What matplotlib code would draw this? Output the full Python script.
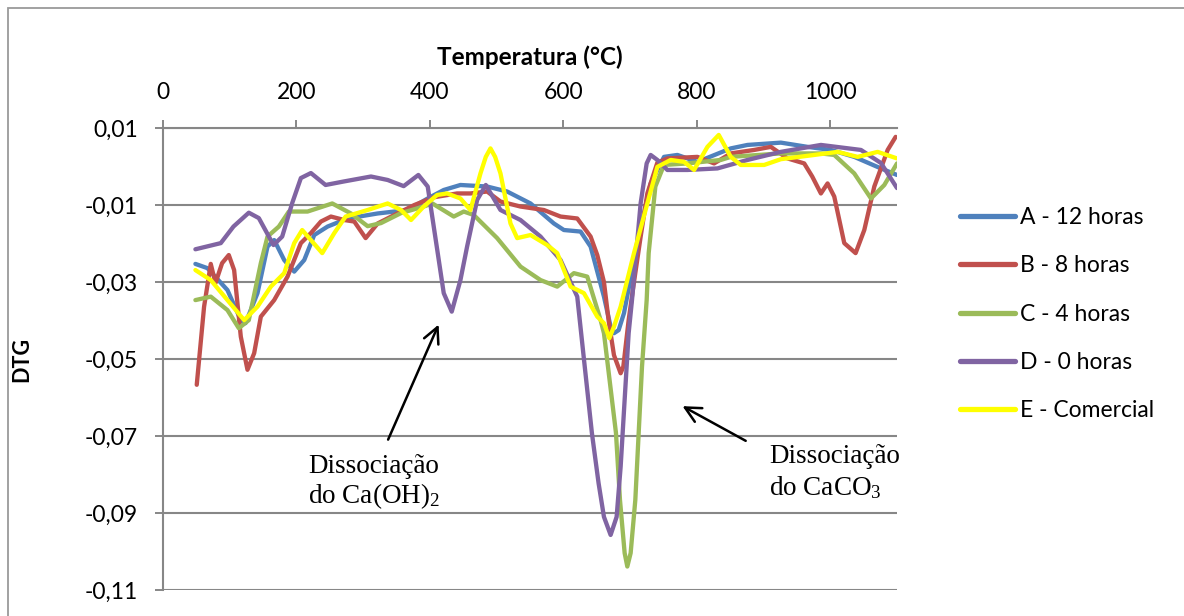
import matplotlib.pyplot as plt
from matplotlib.patches import Rectangle

plt.rcParams['font.family'] = ['Lato', 'DejaVu Sans']
plt.rcParams['mathtext.fontset'] = 'custom'
plt.rcParams['mathtext.rm'] = 'Liberation Serif'
plt.rcParams['mathtext.it'] = 'Liberation Serif:italic'

# DTG curves (temperature in °C, DTG value)
temp_a = [49, 67, 97, 117, 124, 142, 157, 167, 182, 197, 212, 227, 247, 277, 322, 367,
          397, 421, 446, 486, 516, 551, 586, 601, 626, 641, 661, 671, 676, 683, 691, 711,
          731, 751, 771, 801, 851, 876, 926, 966, 1001, 1036, 1076, 1100]
dtg_a = [-0.0253, -0.0264, -0.0321, -0.0399, -0.0407, -0.0329, -0.0208, -0.0191, -0.0243,
         -0.0273, -0.0243, -0.0178, -0.0156, -0.0135, -0.0122, -0.0113, -0.0083, -0.0061,
         -0.0048, -0.0052, -0.0065, -0.0096, -0.0148, -0.0165, -0.0169, -0.0208, -0.0338,
         -0.0416, -0.0433, -0.0425, -0.0381, -0.0199, -0.0044, 0.0025, 0.0030, 0.0012,
         0.0047, 0.0056, 0.0062, 0.0051, 0.0043, 0.0025, -0.0005, -0.0022]

temp_b = [51, 62, 72, 79, 89, 99, 107, 117, 127, 137, 147, 167, 187, 207, 222, 237, 252,
          272, 287, 304, 322, 347, 377, 406, 441, 461, 486, 506, 536, 571, 596, 621, 641,
          651, 661, 668, 676, 686, 690, 698, 706, 716, 726, 741, 756, 801, 826, 851, 886,
          911, 936, 961, 973, 986, 996, 1006, 1021, 1038, 1051, 1066, 1086, 1098]
dtg_b = [-0.0567, -0.0364, -0.0253, -0.0303, -0.0251, -0.0230, -0.0269, -0.0442, -0.0528,
         -0.0485, -0.0390, -0.0347, -0.0286, -0.0199, -0.0173, -0.0143, -0.0130, -0.0139,
         -0.0143, -0.0186, -0.0148, -0.0126, -0.0100, -0.0080, -0.0070, -0.0070, -0.0065,
         -0.0091, -0.0104, -0.0113, -0.0130, -0.0135, -0.0182, -0.0230, -0.0300, -0.0400,
         -0.0490, -0.0537, -0.0520, -0.0399, -0.0300, -0.0182, -0.0070, 0.0010, 0.0021,
         0.0025, 0.0008, 0.0034, 0.0043, 0.0051, 0.0021, 0.0008, -0.0026, -0.0070, -0.0044,
         -0.0078, -0.0199, -0.0225, -0.0165, -0.0052, 0.0043, 0.0077]

temp_c = [49, 72, 97, 114, 129, 147, 157, 174, 189, 217, 254, 282, 307, 327, 357, 391, 404,
          436, 451, 466, 501, 536, 566, 591, 616, 636, 656, 661, 679, 685, 692, 696, 701,
          708, 713, 718, 725, 728, 738, 751, 786, 836, 851, 926, 986, 1006, 1036, 1061,
          1081, 1100]
dtg_c = [-0.0347, -0.0338, -0.0373, -0.0420, -0.0399, -0.0251, -0.0182, -0.0156, -0.0117,
         -0.0117, -0.0096, -0.0122, -0.0155, -0.0147, -0.0121, -0.0104, -0.0096, -0.0130,
         -0.0117, -0.0126, -0.0186, -0.0260, -0.0295, -0.0312, -0.0277, -0.0286, -0.0399,
         -0.0433, -0.0692, -0.0866, -0.1004, -0.1039, -0.1004, -0.0866, -0.0693, -0.0520,
         -0.0347, -0.0225, -0.0052, 0.0004, 0.0008, 0.0017, 0.0025, 0.0034, 0.0034, 0.0030,
         -0.0018, -0.0083, -0.0048, 0.0008]

temp_d = [49, 87, 106, 129, 144, 166, 179, 194, 207, 222, 244, 271, 312, 337, 361, 383, 397,
          412, 421, 433, 446, 456, 471, 484, 506, 536, 566, 596, 621, 631, 643, 653, 661,
          671, 680, 686, 692, 698, 703, 707, 716, 725, 731, 741, 756, 786, 831, 876, 926,
          986, 1046, 1076, 1100]
dtg_d = [-0.0215, -0.0199, -0.0156, -0.0120, -0.0134, -0.0204, -0.0182, -0.0095, -0.0030,
         -0.0017, -0.0048, -0.0039, -0.0026, -0.0035, -0.0051, -0.0022, -0.0052, -0.0225,
         -0.0329, -0.0377, -0.0295, -0.0208, -0.0087, -0.0048, -0.0113, -0.0139, -0.0182,
         -0.0243, -0.0338, -0.0500, -0.0693, -0.0823, -0.0910, -0.0957, -0.0910, -0.0780,
         -0.0606, -0.0433, -0.0347, -0.0269, -0.0095, 0.0008, 0.0030, 0.0017, -0.0009,
         -0.0009, -0.0005, 0.0017, 0.0038, 0.0056, 0.0043, 0.0009, -0.0056]

temp_e = [49, 72, 97, 122, 142, 162, 182, 197, 209, 222, 239, 257, 274, 307, 337, 357, 372,
          391, 411, 426, 446, 461, 476, 484, 491, 498, 506, 521, 531, 551, 576, 591, 611,
          631, 651, 661, 669, 676, 686, 706, 726, 741, 761, 781, 796, 816, 833, 851, 866,
          901, 926, 976, 1011, 1041, 1071, 1100]
dtg_e = [-0.0269, -0.0295, -0.0347, -0.0399, -0.0364, -0.0312, -0.0277, -0.0199, -0.0165,
         -0.0191, -0.0225, -0.0173, -0.0130, -0.0113, -0.0096, -0.0113, -0.0139, -0.0104,
         -0.0074, -0.0070, -0.0083, -0.0113, -0.0018, 0.0025, 0.0047, 0.0025, -0.0018,
         -0.0148, -0.0186, -0.0178, -0.0204, -0.0225, -0.0312, -0.0329, -0.0390, -0.0407,
         -0.0446, -0.0416, -0.0364, -0.0225, -0.0096, -0.0001, 0.0017, 0.0012, -0.0009,
         0.0051, 0.0082, 0.0025, 0.0004, 0.0004, 0.0019, 0.0030, 0.0038, 0.0025, 0.0038,
         0.0021]

series_names = ['A - 12 horas', 'B - 8 horas', 'C - 4 horas', 'D - 0 horas', 'E - Comercial']
series_colors = ['#4F81BD', '#C0504D', '#9BBB59', '#8064A2', '#FFFF00']

x_ticks = [0, 200, 400, 600, 800, 1000]
y_ticks = [0.01, -0.01, -0.03, -0.05, -0.07, -0.09, -0.11]
y_tick_labels = ['0,01', '-0,01', '-0,03', '-0,05', '-0,07', '-0,09', '-0,11']

grey = '#878787'

fig = plt.figure(figsize=(11.84, 6.16), dpi=100)
ax = fig.add_axes([162.7 / 1184, 1 - 590 / 616, 734.3 / 1184, 462 / 616])

# outer chart border
fig.patches.append(Rectangle((8 / 1184, -0.1), 1.2, 1.1 - 8 / 616, transform=fig.transFigure,
                             fill=False, edgecolor='#9a9a9a', lw=1.3))

curves = [(temp_a, dtg_a), (temp_b, dtg_b), (temp_c, dtg_c), (temp_d, dtg_d), (temp_e, dtg_e)]
for (t, d), name, col in zip(curves, series_names, series_colors):
    ax.plot(t, d, color=col, lw=3.1, label=name, solid_joinstyle='round',
            solid_capstyle='round')

ax.set_xlim(0, 1100)
ax.set_ylim(-0.11, 0.01)
ax.set_xticks(x_ticks)
ax.set_yticks(y_ticks)
ax.set_yticklabels(y_tick_labels)
ax.xaxis.tick_top()
ax.tick_params(axis='x', length=6, width=1.4, color=grey, pad=12, labelsize=16.5)
ax.tick_params(axis='y', length=6, width=1.4, color=grey, pad=12, labelsize=16.5)

ax.grid(axis='y', color=grey, lw=1.5)
ax.set_axisbelow(True)
for side in ['right', 'bottom']:
    ax.spines[side].set_visible(False)
for side in ['left', 'top']:
    ax.spines[side].set_color(grey)
    ax.spines[side].set_linewidth(1.5)

ax.set_xlabel('Temperatura (°C)', fontsize=17.5, fontweight='bold')
ax.xaxis.set_label_position('top')
ax.xaxis.set_label_coords(0.5, 1 + (128 - 57) / 462)
ax.xaxis.label.set_va('center')
ax.set_ylabel('DTG', fontsize=15.5, fontweight='bold')
ax.yaxis.set_label_coords((22 - 162.7) / 734.3, 0.5)
ax.yaxis.label.set_va('center')

leg = ax.legend(loc='upper left', bbox_to_anchor=(960 / 1184, 1 - 207 / 616),
                bbox_transform=fig.transFigure, frameon=False, fontsize=16.5,
                borderpad=0, borderaxespad=0, handlelength=2.4, handletextpad=0.22,
                labelspacing=1.19)
for line in leg.get_lines():
    line.set_linewidth(3.8)

# annotations for the two decomposition steps
serif = 'Liberation Serif'
ax.annotate('', xy=(415, -0.0404), xytext=(336, -0.0716),
            arrowprops=dict(arrowstyle='->', lw=1.8, color='black', mutation_scale=28))
ax.text(218, -0.0796, 'Dissociação', family=serif, fontsize=19.5, va='baseline')
ax.text(218, -0.0874, 'do Ca(OH)$_2$', family=serif, fontsize=19.5, va='baseline')

ax.annotate('', xy=(775, -0.0619), xytext=(877, -0.0716),
            arrowprops=dict(arrowstyle='->', lw=1.8, color='black', mutation_scale=28))
ax.text(908, -0.0770, 'Dissociação', family=serif, fontsize=19.5, va='baseline')
ax.text(908, -0.0853, 'do CaCO$_3$', family=serif, fontsize=19.5, va='baseline')

fig.savefig('out.png', dpi=100)
